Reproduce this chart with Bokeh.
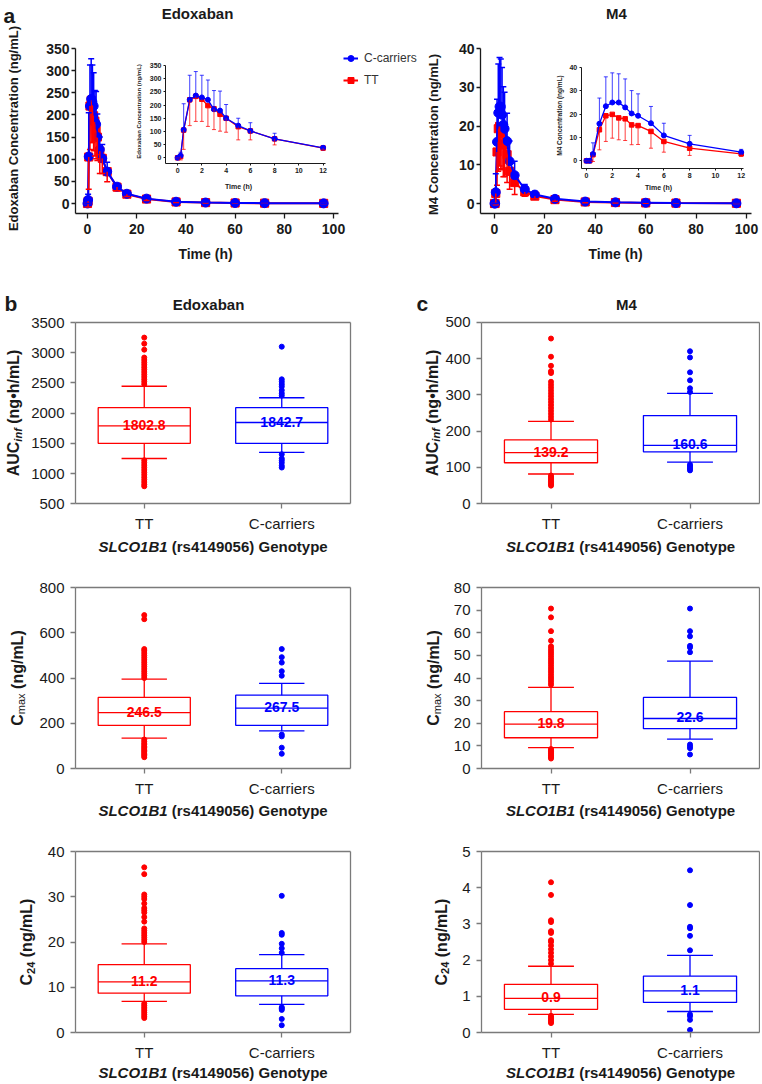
import math
from bokeh.plotting import figure
from bokeh.models import (Range1d, FixedTicker, Label, Legend, LegendItem, LinearAxis,
                          Whisker, TeeHead, ColumnDataSource)
from bokeh.layouts import row, column
from bokeh.core.properties import value
from bokeh.embed import file_html
from bokeh.resources import INLINE

# ---------------- data: panel a (mean concentration-time) ----------------
time_h = [0, 0.25, 0.5, 1, 1.5, 2, 2.5, 3, 3.5, 4, 5, 6, 8, 12, 16, 24, 36, 48, 60, 72, 96]
edox_cc_mean = [0, 8, 106, 220, 236, 229, 220, 184, 179, 150, 122, 102, 72, 38, 22, 11, 4, 2.2, 1.2, 0.8, 0.3]
edox_cc_sd = [0, 13, 99, 93, 91, 84, 75, 71, 74, 52, 28, 31, 21, 6, 4, 3, 1.5, 1, 0.6, 0.4, 0.2]
edox_tt_mean = [0, 5, 105, 220, 233, 222, 198, 186, 165, 150, 118, 102, 72, 37, 21, 10, 3.5, 2, 1.1, 0.7, 0.3]
edox_tt_sd = [0, 13, 73, 98, 95, 84, 79, 79, 64, 53, 50, 34, 23, 8, 5, 3, 1.5, 1, 0.6, 0.4, 0.2]
m4_cc_mean = [0, 0, 2.9, 15.9, 23.4, 25, 25, 22.9, 20.3, 19.3, 16.1, 10.9, 7.3, 3.7, 2.3, 1.2, 0.5, 0.3, 0.2, 0.1, 0.05]
m4_cc_sd = [0, 0, 4.8, 11, 12.6, 12.7, 12.3, 12.2, 9.8, 9.4, 7.2, 5.2, 3.6, 1.2, 0.8, 0.5, 0.3, 0.2, 0.1, 0.1, 0.05]
m4_tt_mean = [0, 0, 2.6, 13.3, 19.3, 19.9, 18.4, 18, 15.4, 15.1, 12.6, 8.3, 5.4, 3, 1.9, 1, 0.4, 0.25, 0.15, 0.1, 0.05]
m4_tt_sd = [0, 0, 2.9, 8.6, 11, 10.2, 9.4, 9.3, 8.5, 8.1, 7.2, 4.6, 3.1, 1.1, 0.7, 0.4, 0.2, 0.1, 0.1, 0.05, 0.03]

main_time_ticks = [0, 20, 40, 60, 80, 100]
inset_time_ticks = [0, 2, 4, 6, 8, 10, 12]
edox_conc_ticks = [0, 50, 100, 150, 200, 250, 300, 350]
m4_conc_ticks = [0, 10, 20, 30, 40]
inset_max_time = 12

# ---------------- data: panels b, c (box plots) ----------------
genotypes = ["TT", "C-carriers"]

edox_auc_q1 = [1500, 1500]
edox_auc_med = [1790, 1845]
edox_auc_q3 = [2090, 2090]
edox_auc_wlo = [1250, 1350]
edox_auc_whi = [2445, 2255]
edox_auc_text = ["1802.8", "1842.7"]
edox_auc_out_tt = [2480, 2520, 2560, 2600, 2640, 2680, 2720, 2760, 2800, 2840, 2880, 2920, 3050, 3150, 3250,
                   1220, 1180, 1140, 1100, 1060, 1020, 980, 940, 900, 860, 820, 790]
edox_auc_out_cc = [3100, 2560, 2520, 2480, 2440, 2380, 2330, 2290, 1320, 1250, 1220, 1180, 1130, 1100]
edox_auc_ticks = [500, 1000, 1500, 2000, 2500, 3000, 3500]

edox_cmax_q1 = [191, 191]
edox_cmax_med = [247, 267]
edox_cmax_q3 = [314, 324]
edox_cmax_wlo = [134, 166]
edox_cmax_whi = [395, 376]
edox_cmax_text = ["246.5", "267.5"]
edox_cmax_out_tt = [400, 410, 420, 430, 440, 450, 460, 470, 480, 490, 500, 510, 520, 528, 660, 678,
                    128, 120, 112, 105, 98, 92, 86, 80, 74, 68, 62, 56, 50]
edox_cmax_out_cc = [528, 492, 468, 430, 410, 150, 142, 92, 65]
edox_cmax_ticks = [0, 200, 400, 600, 800]

edox_c24_q1 = [8.7, 8.1]
edox_c24_med = [11.2, 11.4]
edox_c24_q3 = [15.0, 14.1]
edox_c24_wlo = [6.9, 6.2]
edox_c24_whi = [19.6, 17.2]
edox_c24_text = ["11.2", "11.3"]
edox_c24_out_tt = [20.0, 20.5, 21.0, 21.5, 22.0, 22.5, 23.0, 24.5, 25.5, 26.5, 27.0, 27.5, 28.5, 29.5, 30.0,
                   30.5, 35.0, 36.5, 6.4, 6.0, 5.6, 5.2, 4.8, 4.4, 4.0, 3.6, 3.2]
edox_c24_out_cc = [30.2, 22.0, 21.6, 19.6, 18.6, 17.6, 5.6, 5.3, 5.0, 3.0, 1.6]
edox_c24_ticks = [0, 10, 20, 30, 40]

m4_auc_q1 = [113, 143]
m4_auc_med = [141, 161]
m4_auc_q3 = [176, 243]
m4_auc_wlo = [82, 115]
m4_auc_whi = [227, 304]
m4_auc_text = ["139.2", "160.6"]
m4_auc_out_tt = [232, 240, 248, 256, 264, 272, 280, 288, 296, 304, 312, 320, 328, 336, 360, 365, 380, 405, 455,
                 78, 74, 70, 66, 62, 58, 54, 50]
m4_auc_out_cc = [420, 403, 362, 340, 318, 308, 108, 104, 100, 96, 92]
m4_auc_ticks = [0, 100, 200, 300, 400, 500]

m4_cmax_q1 = [13.6, 17.6]
m4_cmax_med = [19.6, 22.1]
m4_cmax_q3 = [25.1, 31.4]
m4_cmax_wlo = [9.2, 13.0]
m4_cmax_whi = [35.9, 47.5]
m4_cmax_text = ["19.8", "22.6"]
m4_cmax_out_tt = [37, 38, 39, 40, 41, 42, 43, 44, 45, 46, 47, 48, 49, 50, 51, 52, 53, 54, 56.5, 60.7, 66.8, 70.7,
                  8.6, 8.0, 7.4, 6.8, 6.2, 5.6, 5.0, 4.4]
m4_cmax_out_cc = [70.7, 60.7, 58.4, 54.2, 53.5, 51.4, 10.6, 9.8, 9.0, 6.2]
m4_cmax_ticks = [0, 10, 20, 30, 40, 50, 60, 70, 80]

m4_c24_q1 = [0.64, 0.83]
m4_c24_med = [0.94, 1.15]
m4_c24_q3 = [1.33, 1.56]
m4_c24_wlo = [0.5, 0.58]
m4_c24_whi = [1.83, 2.13]
m4_c24_text = ["0.9", "1.1"]
m4_c24_out_tt = [1.9, 2.0, 2.1, 2.2, 2.3, 2.4, 2.5, 2.55, 2.75, 2.8, 3.05, 3.1, 3.8, 4.15,
                 0.46, 0.42, 0.38, 0.34, 0.30, 0.26]
m4_c24_out_cc = [4.48, 3.52, 2.92, 2.88, 2.67, 2.27, 0.5, 0.45, 0.35, 0.07]
m4_c24_ticks = [0, 1, 2, 3, 4, 5]

# ---------------- style ----------------
FONT = "Liberation Sans"
RED = "#ff0000"
BLUE = "#0000ff"
TXT = "#1a1a1a"
AX = "#1a1a1a"
GRAY = "#7a7a7a"

BOLD_W = {'S': .667, 'L': .611, 'C': .722, 'O': .778, 'B': .722, '(': .333, ')': .333, 'r': .389,
          's': .556, ' ': .278, 'G': .778, 'e': .556, 'n': .611, 'o': .611, 't': .333, 'y': .556,
          'p': .611, 'A': .722, 'U': .722, 'i': .278, 'f': .333, 'g': .611, '\u2022': .35, 'h': .611,
          '/': .278, 'M': .833, 'm': .889, 'a': .556, 'x': .556}
REG_W = {'m': .833, 'a': .556, 'x': .5, 'i': .222, 'n': .556, 'f': .278}


def tw(s, size, style="bold"):
    tab = REG_W if style == "normal" else BOLD_W
    return sum(tab.get(c, 0.556) for c in s) * size


def px_range(v0, p0, v1, p1, size, vertical=False):
    """Range whose values v0, v1 fall on canvas pixels p0, p1 (x from left, y from top)."""
    k = (v1 - v0) / (p1 - p0)

    def at(pp):
        return v0 + (pp - p0) * k
    if vertical:
        return Range1d(at(size), at(0))
    return Range1d(at(0), at(size))


def make_canvas(w, h, xr, yr):
    p = figure(width=w, height=h, x_range=xr, y_range=yr, min_border=0, min_border_left=0,
               min_border_right=0, min_border_top=0, min_border_bottom=0,
               output_backend="svg", toolbar_location=None, tools="")
    p.outline_line_color = None
    p.background_fill_alpha = 0
    p.border_fill_alpha = 0
    p.grid.visible = False
    return p


def style_axis(ax, size, style, tick_out, standoff, color, lw):
    ax.major_label_text_font = FONT
    ax.major_label_text_font_size = f"{size}px"
    ax.major_label_text_font_style = style
    ax.major_label_text_color = TXT
    ax.major_tick_out = tick_out
    ax.major_tick_in = 0
    ax.minor_tick_out = 0
    ax.minor_tick_in = 0
    ax.major_label_standoff = standoff
    ax.axis_line_color = color
    ax.axis_line_width = lw
    ax.major_tick_line_color = color
    ax.major_tick_line_width = lw
    ax.axis_label = None


def slab(fig, px, py, text, size, style="bold", color=TXT, align="center", baseline="middle", angle=0.0):
    p, left, top, h = fig
    p.add_layout(Label(x=px - left, y=h - (py - top), x_units="screen", y_units="screen", text=text,
                       angle=angle, text_font=FONT, text_font_size=f"{size}px", text_font_style=style,
                       text_color=color, text_align=align, text_baseline=baseline))


def rot_label(fig, pcx, pcy, parts):
    p, left, top, h = fig
    total = sum(tw(t, s, st) + gap for t, s, st, dx, gap in parts)
    y = (h - (pcy - top)) - total / 2.0
    cx = pcx - left
    for t, s, st, dx, gap in parts:
        p.add_layout(Label(x=cx + dx, y=y, x_units="screen", y_units="screen", text=t, angle=math.pi / 2,
                           text_font=FONT, text_font_size=f"{s}px", text_font_style=st, text_color=TXT,
                           text_align="left", text_baseline="middle"))
        y += tw(t, s, st) + gap


def genotype_label(fig, pcx, pcy):
    w1 = tw("SLCO1B1", 15)
    gap = tw(" ", 15)
    w2 = tw("(rs4149056) Genotype", 15)
    x0 = pcx - (w1 + gap + w2) / 2.0
    slab(fig, x0, pcy, "SLCO1B1", 15, "bold italic", align="left")
    slab(fig, x0 + w1 + gap, pcy, "(rs4149056) Genotype", 15, "bold", align="left")


def pk_series(p, t, cc_m, cc_sd, tt_m, tt_sd, msize, lw, cap, ew, alpha, xn="default", yn="default"):
    tt_lo = [m - s for m, s in zip(tt_m, tt_sd)]
    cc_hi = [m + s for m, s in zip(cc_m, cc_sd)]
    src_tt = ColumnDataSource(dict(t=t, m=tt_m, lo=tt_lo))
    src_cc = ColumnDataSource(dict(t=t, m=cc_m, hi=cc_hi))
    p.add_layout(Whisker(source=src_tt, base="t", upper="m", lower="lo", upper_head=None,
                         lower_head=TeeHead(size=cap, line_color=RED, line_width=ew, line_alpha=alpha),
                         line_color=RED, line_width=ew, line_alpha=alpha, level="glyph",
                         x_range_name=xn, y_range_name=yn))
    r_tl = p.line("t", "m", source=src_tt, line_color=RED, line_width=lw, x_range_name=xn, y_range_name=yn)
    r_ts = p.scatter("t", "m", source=src_tt, marker="square", size=msize * 0.9, color=RED,
                     x_range_name=xn, y_range_name=yn)
    p.add_layout(Whisker(source=src_cc, base="t", upper="hi", lower="m", lower_head=None,
                         upper_head=TeeHead(size=cap, line_color=BLUE, line_width=ew, line_alpha=alpha),
                         line_color=BLUE, line_width=ew, line_alpha=alpha, level="glyph",
                         x_range_name=xn, y_range_name=yn))
    r_cl = p.line("t", "m", source=src_cc, line_color=BLUE, line_width=lw, x_range_name=xn, y_range_name=yn)
    r_cs = p.scatter("t", "m", source=src_cc, marker="circle", size=msize, color=BLUE,
                     x_range_name=xn, y_range_name=yn)
    return r_tl, r_ts, r_cl, r_cs


def sub(seq, idx):
    return [seq[i] for i in idx]


inset_idx = [i for i, t in enumerate(time_h) if t <= inset_max_time]


def pk_panel(w, h, main_x, main_y, main_xb, main_yb, main_yticks, ins_x, ins_y, ins_xb, ins_yb,
             ins_yticks, cc_m, cc_sd, tt_m, tt_sd):
    p = make_canvas(w, h, px_range(*main_x, w), px_range(*main_y, h, vertical=True))
    p.extra_x_ranges = {"inset_x": px_range(*ins_x, w)}
    p.extra_y_ranges = {"inset_y": px_range(*ins_y, h, vertical=True)}
    xa, ya = p.xaxis[0], p.yaxis[0]
    style_axis(xa, 14, "bold", 5, 5, AX, 1.3)
    style_axis(ya, 14, "bold", 4, 2, AX, 1.3)
    xa.ticker = FixedTicker(ticks=main_time_ticks)
    ya.ticker = FixedTicker(ticks=main_yticks)
    xa.fixed_location = main_yb[0]
    xa.bounds = main_xb
    ya.fixed_location = main_xb[0]
    ya.bounds = main_yb
    ixa = LinearAxis(x_range_name="inset_x", y_range_name="inset_y", fixed_location=ins_yb[0],
                     bounds=ins_xb, ticker=FixedTicker(ticks=inset_time_ticks))
    iya = LinearAxis(x_range_name="inset_x", y_range_name="inset_y", fixed_location=ins_xb[0],
                     bounds=ins_yb, ticker=FixedTicker(ticks=ins_yticks))
    style_axis(ixa, 7, "bold", 2, 2, AX, 1)
    style_axis(iya, 7, "bold", 2, 2, AX, 1)
    p.add_layout(ixa, "below")
    p.add_layout(iya, "left")
    rs = pk_series(p, time_h, cc_m, cc_sd, tt_m, tt_sd, 9, 2, 6, 1.5, 1.0)
    pk_series(p, sub(time_h, inset_idx), sub(cc_m, inset_idx), sub(cc_sd, inset_idx),
              sub(tt_m, inset_idx), sub(tt_sd, inset_idx), 5, 1.3, 4, 1, 0.75,
              xn="inset_x", yn="inset_y")
    return p, rs


# ---------------- row a ----------------
HA = 265
pL, (r_tl, r_ts, r_cl, r_cs) = pk_panel(
    420, HA,
    (0, 87, 100, 333), (0, 203, 350, 48), (-4.88, 102), (-23, 350), edox_conc_ticks,
    (0, 177.1, 12, 322.6), (0, 157.3, 350, 65), (-1, 12.2), (-23, 350), edox_conc_ticks,
    edox_cc_mean, edox_cc_sd, edox_tt_mean, edox_tt_sd)
figL = (pL, 0, 0, HA)
legend = Legend(items=[LegendItem(label="C-carriers", renderers=[r_cl, r_cs]),
                       LegendItem(label="TT", renderers=[r_tl, r_ts])],
                location=(343, HA - 90), padding=0, margin=0, spacing=2, glyph_width=15, glyph_height=20,
                label_standoff=6, border_line_alpha=0, background_fill_alpha=0,
                label_text_font=FONT, label_text_font_size="12px", label_text_color="#333333")
pL.add_layout(legend)
slab(figL, 3, 15, "a", 21, "bold", align="left", baseline="alphabetic")
slab(figL, 197, 13, "Edoxaban", 15, "bold")
slab(figL, 13, 128, "Edoxaban Concentration (ng/mL)", 13, "bold", angle=math.pi / 2)
slab(figL, 205, 253, "Time (h)", 14, "bold")
slab(figL, 138, 111, "Edoxaban Concentration (ng/mL)", 6, "bold", angle=math.pi / 2)
slab(figL, 238, 186, "Time (h)", 7, "bold")

RL = 420
pR, _ = pk_panel(
    340, HA,
    (0, 494 - RL, 100, 746 - RL), (0, 203, 40, 48), (-5.5, 102), (-2.6, 40), m4_conc_ticks,
    (0, 586 - RL, 12, 740.7 - RL), (0, 160.3, 40, 67), (-0.41, 12.2), (-3.4, 40), m4_conc_ticks,
    m4_cc_mean, m4_cc_sd, m4_tt_mean, m4_tt_sd)
figR = (pR, RL, 0, HA)
slab(figR, 616, 13, "M4", 15, "bold")
slab(figR, 433, 134, "M4 Concentration (ng/mL)", 13, "bold", angle=math.pi / 2)
slab(figR, 615, 253, "Time (h)", 14, "bold")
slab(figR, 558.5, 115, "M4 Concentration (ng/mL)", 6.5, "bold", angle=math.pi / 2)
slab(figR, 658, 187, "Time (h)", 7, "bold")

row_a = row(pL, pR, spacing=0)

# ---------------- box plot rows ----------------
BOX_W = 0.67
CAP_W = 0.33
colors = [RED, BLUE]
pos = [i + 0.5 for i in range(len(genotypes))]
overrides = {}
for x_, g_ in zip(pos, genotypes):
    overrides[x_] = g_
    overrides[str(x_)] = g_


def box_fig(w, h, left, top, frame_l, frame_r, frame_t, frame_b, yr, yticks, q1, med, q3, wlo, whi,
            texts, outs):
    xr = px_range(0, frame_l - left, len(genotypes), frame_r - left, w)
    yrr = px_range(yr[0], frame_b - top, yr[1], frame_t - top, h, vertical=True)
    p = make_canvas(w, h, xr, yrr)
    xa, ya = p.xaxis[0], p.yaxis[0]
    style_axis(xa, 15, "normal", 5, 6, GRAY, 1.3)
    style_axis(ya, 15, "normal", 5, 6, GRAY, 1.3)
    xa.ticker = FixedTicker(ticks=pos)
    xa.major_label_overrides = overrides
    ya.ticker = FixedTicker(ticks=yticks)
    xa.fixed_location = yr[0]
    xa.bounds = (0, len(genotypes))
    ya.fixed_location = 0
    ya.bounds = tuple(yr)
    top_ax = LinearAxis(fixed_location=yr[1], bounds=(0, len(genotypes)), ticker=FixedTicker(ticks=[]))
    right_ax = LinearAxis(fixed_location=len(genotypes), bounds=tuple(yr), ticker=FixedTicker(ticks=[]))
    style_axis(top_ax, 15, "normal", 0, 0, GRAY, 1.3)
    style_axis(right_ax, 15, "normal", 0, 0, GRAY, 1.3)
    p.add_layout(top_ax, "above")
    p.add_layout(right_ax, "right")
    lw = 1.3
    p.vbar(x=pos, width=BOX_W, bottom=q1, top=q3, fill_alpha=0, line_color=colors, line_width=lw)
    p.segment(x0=[x - BOX_W / 2 for x in pos], x1=[x + BOX_W / 2 for x in pos], y0=med, y1=med,
              line_color=colors, line_width=lw)
    p.segment(x0=pos, x1=pos, y0=q3, y1=whi, line_color=colors, line_width=lw)
    p.segment(x0=pos, x1=pos, y0=q1, y1=wlo, line_color=colors, line_width=lw)
    p.segment(x0=[x - CAP_W / 2 for x in pos], x1=[x + CAP_W / 2 for x in pos], y0=whi, y1=whi,
              line_color=colors, line_width=lw)
    p.segment(x0=[x - CAP_W / 2 for x in pos], x1=[x + CAP_W / 2 for x in pos], y0=wlo, y1=wlo,
              line_color=colors, line_width=lw)
    for i, o in enumerate(outs):
        p.scatter(x=[pos[i]] * len(o), y=o, size=5, color=colors[i], marker="circle")
    p.text(x=pos, y=med, text=texts, text_color=colors, text_font=value(FONT), text_font_size="14px",
           text_font_style="bold", text_align="center", text_baseline="alphabetic", y_offset=-1)
    return (p, left, top, h)


SP = tw(" ", 16)
auc_parts = [("AUC", 16, "bold", 0, 0), ("inf", 11, "bold italic", 4, SP), ("(ng\u2022h/mL)", 16, "bold", 0, 0)]
cmax_parts = [("C", 16, "bold", 0, 0), ("max", 11, "normal", 4, SP), ("(ng/mL)", 16, "bold", 0, 0)]
c24_parts = [("C", 16, "bold", 0, 0), ("24", 11, "bold", 4, SP), ("(ng/mL)", 16, "bold", 0, 0)]

LW_, RW_ = 381, 379
LX0, RX0 = 0, 381
EL, ER = 75, 350       # edoxaban box frame (page x)
ML, MR = 481, 759      # M4 box frame (page x)

# row b
TB, HB = 265, 295
fbL = box_fig(LW_, HB, LX0, TB, EL, ER, 322, 503.3, (500, 3500), edox_auc_ticks, edox_auc_q1, edox_auc_med,
              edox_auc_q3, edox_auc_wlo, edox_auc_whi, edox_auc_text, [edox_auc_out_tt, edox_auc_out_cc])
fbR = box_fig(RW_, HB, RX0, TB, ML, MR, 321.7, 503.3, (0, 500), m4_auc_ticks, m4_auc_q1, m4_auc_med,
              m4_auc_q3, m4_auc_wlo, m4_auc_whi, m4_auc_text, [m4_auc_out_tt, m4_auc_out_cc])
slab(fbL, 4, 303, "b", 21, "bold", align="left", baseline="alphabetic")
slab(fbL, 208, 304, "Edoxaban", 15, "bold")
slab(fbR, 416, 303, "c", 21, "bold", align="left", baseline="alphabetic")
slab(fbR, 626, 304, "M4", 15, "bold")
rot_label(fbL, 13, 412.5, auc_parts)
rot_label(fbR, 431.5, 412.5, auc_parts)
genotype_label(fbL, (EL + ER) / 2, 546)
genotype_label(fbR, (ML + MR) / 2, 546)

# row c
TC, HC = 560, 265
fcL = box_fig(LW_, HC, LX0, TC, EL, ER, 587, 768, (0, 800), edox_cmax_ticks, edox_cmax_q1, edox_cmax_med,
              edox_cmax_q3, edox_cmax_wlo, edox_cmax_whi, edox_cmax_text, [edox_cmax_out_tt, edox_cmax_out_cc])
fcR = box_fig(RW_, HC, RX0, TC, ML, MR, 587, 768, (0, 80), m4_cmax_ticks, m4_cmax_q1, m4_cmax_med,
              m4_cmax_q3, m4_cmax_wlo, m4_cmax_whi, m4_cmax_text, [m4_cmax_out_tt, m4_cmax_out_cc])
rot_label(fcL, 16.5, 677.5, cmax_parts)
rot_label(fcR, 432.5, 677.5, cmax_parts)
genotype_label(fcL, (EL + ER) / 2, 810)
genotype_label(fcR, (ML + MR) / 2, 810)

# row d
TD, HD = 825, 258
fdL = box_fig(LW_, HD, LX0, TD, EL, ER, 851, 1032, (0, 40), edox_c24_ticks, edox_c24_q1, edox_c24_med,
              edox_c24_q3, edox_c24_wlo, edox_c24_whi, edox_c24_text, [edox_c24_out_tt, edox_c24_out_cc])
fdR = box_fig(RW_, HD, RX0, TD, ML, MR, 851, 1032, (0, 5), m4_c24_ticks, m4_c24_q1, m4_c24_med,
              m4_c24_q3, m4_c24_wlo, m4_c24_whi, m4_c24_text, [m4_c24_out_tt, m4_c24_out_cc])
rot_label(fdL, 26, 941.5, c24_parts)
rot_label(fdR, 440.5, 941.5, c24_parts)
genotype_label(fdL, (EL + ER) / 2, 1072)
genotype_label(fdR, (ML + MR) / 2, 1072)

layout = column(row_a,
                row(fbL[0], fbR[0], spacing=0),
                row(fcL[0], fcR[0], spacing=0),
                row(fdL[0], fdR[0], spacing=0),
                spacing=0)

open("out.html", "w").write(file_html(layout, INLINE, "SLCO1B1 edoxaban"))
